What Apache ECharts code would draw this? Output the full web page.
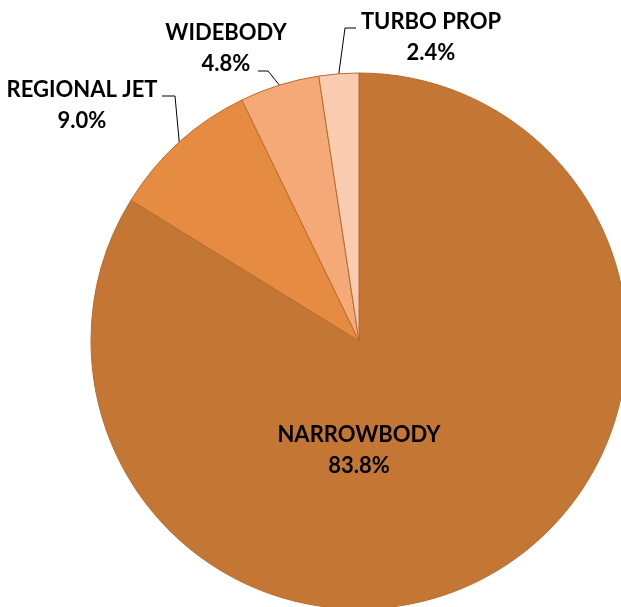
<!DOCTYPE html>
<html>
<head>
<meta charset="utf-8">
<style>
  html, body { margin: 0; padding: 0; background: #ffffff; }
  #chart { width: 621px; height: 607px; }
</style>
<script src="https://cdn.jsdelivr.net/npm/echarts@6/dist/echarts.min.js"></script>
</head>
<body>
<div id="chart"></div>
<script>
var fleetNames = ["NARROWBODY", "REGIONAL JET", "WIDEBODY", "TURBO PROP"];
var fleetShares = [83.8, 9.0, 4.8, 2.4];
var fleetColors = ["#C47734", "#E68B42", "#F5A977", "#F9CBB1"];

var pieCenter = [359, 341];
var pieRadius = 268;

// centre of each label block
var labelSpots = [
  [359, 450],
  [82, 105],
  [226, 48],
  [431, 37],
];
// elbow and end of each leader line (none for the inside label)
var leaderBends = [
  null,
  [[175, 96], [162, 96]],
  [[268, 71], [258, 71]],
  [[345, 28], [356, 28]],
];

var fleetTotal = fleetShares.reduce(function (a, b) {
  return a + b;
}, 0);

// point on the rim at the middle of a slice
function rimPoint(index) {
  var before = 0;
  for (var i = 0; i < index; i++) before += fleetShares[i];
  var ang = ((before + fleetShares[index] / 2) / fleetTotal) * Math.PI * 2;
  return [
    pieCenter[0] + pieRadius * Math.sin(ang),
    pieCenter[1] - pieRadius * Math.cos(ang),
  ];
}

var fleetChart = echarts.init(document.getElementById("chart"));

var fleetData = fleetNames.map(function (name, i) {
  return {
    name: name,
    value: fleetShares[i],
    itemStyle: { color: fleetColors[i] },
    label: { position: i === 0 ? "inside" : "outside" },
    labelLine: { show: i !== 0 },
  };
});

var fleetOption = {
  animation: false,
  series: [
    {
      type: "pie",
      center: pieCenter,
      radius: pieRadius,
      startAngle: 90,
      clockwise: true,
      data: fleetData,
      itemStyle: {
        borderColor: "#B86B2C",
        borderWidth: 1,
      },
      label: {
        show: true,
        formatter: function (p) {
          return p.name + "\n" + p.value.toFixed(1) + "%";
        },
        color: "#000000",
        fontFamily: "Lato",
        fontWeight: "bold",
        fontSize: 22,
        lineHeight: 31,
        align: "center",
        overflow: "none",
      },
      labelLine: {
        lineStyle: { color: "#000000", width: 1 },
        length: 12,
        length2: 10,
      },
      labelLayout: function (params) {
        var i = params.dataIndex;
        var out = {
          x: labelSpots[i][0],
          y: labelSpots[i][1],
          align: "center",
          verticalAlign: "middle",
        };
        if (leaderBends[i]) {
          out.labelLinePoints = [rimPoint(i)].concat(leaderBends[i]);
        }
        return out;
      },
      emphasis: { disabled: true },
    },
  ],
};
fleetChart.setOption(fleetOption);
</script>
</body>
</html>
